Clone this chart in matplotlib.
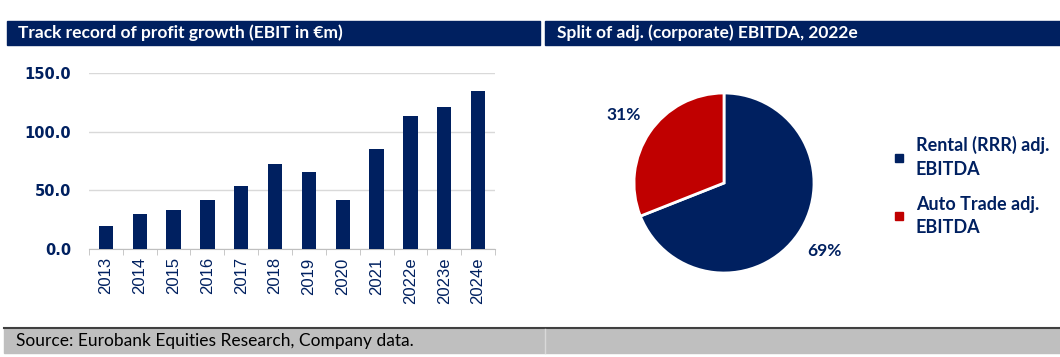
import matplotlib.pyplot as plt
from matplotlib.lines import Line2D
from matplotlib.patches import Rectangle
from matplotlib.ticker import FixedLocator

# Data
years = ['2013', '2014', '2015', '2016', '2017', '2018', '2019', '2020',
         '2021', '2022e', '2023e', '2024e']
ebit = [19.6, 29.8, 33.2, 41.8, 54.0, 72.2, 65.9, 41.8, 85.0, 113.4, 121.3, 134.7]

split_labels = ['Rental (RRR) adj.\nEBITDA', 'Auto Trade adj.\nEBITDA']
split_values = [69, 31]

NAVY = '#002060'
RED = '#C00000'
W, H = 1060, 357

fig = plt.figure(figsize=(W / 100, H / 100), dpi=100)


def fx(px):
    return px / W


def fy(py):
    return 1 - py / H


# Header bars
fig.patches.append(Rectangle((fx(7), fy(45)), fx(533), 24 / H, color=NAVY,
                             transform=fig.transFigure))
fig.patches.append(Rectangle((fx(545), fy(45)), fx(515), 24 / H, color=NAVY,
                             transform=fig.transFigure))
fig.text(fx(18), fy(33), 'Track record of profit growth (EBIT in €m)', color='white',
         fontsize=12.5, fontweight='bold', family='Lato', va='center')
fig.text(fx(557), fy(33), 'Split of adj. (corporate) EBITDA, 2022e', color='white',
         fontsize=12.5, fontweight='bold', family='Lato', va='center')

# Footer
fig.patches.append(Rectangle((fx(4), fy(353)), fx(1056), 25 / H, color='#BFBFBF',
                             transform=fig.transFigure))
fig.lines.append(Line2D([fx(4), 1], [fy(328), fy(328)], color='#404040', lw=1.5,
                        transform=fig.transFigure))
fig.lines.append(Line2D([fx(545), fx(545)], [fy(353), fy(329)], color='#D9D9D9', lw=1,
                        transform=fig.transFigure))
fig.text(fx(16), fy(341), 'Source: Eurobank Equities Research, Company data.',
         fontsize=12.5, family='Lato', va='center', color='black')

# Bar chart
ax = fig.add_axes([fx(89), fy(249), fx(495 - 89), (249 - 73) / H])
x = range(len(years))
ax.bar(x, ebit, width=0.42, color=NAVY, zorder=3)
ax.set_ylim(0, 150)
ax.set_xlim(-0.5, len(years) - 0.5)
ax.set_yticks([0, 50, 100, 150])
ax.set_yticklabels(['%.1f' % v for v in [0, 50, 100, 150]], fontsize=10.5,
                   fontweight='bold', color=NAVY)
ax.set_xticks(list(x))
ax.set_xticklabels(years, rotation=90, fontsize=12, color=NAVY,
                   family='Liberation Sans')
ax.xaxis.set_minor_locator(FixedLocator([i - 0.5 for i in range(len(years) + 1)]))
ax.tick_params(axis='x', which='major', length=0, pad=6)
ax.tick_params(axis='x', which='minor', length=4, color='#BFBFBF', direction='out')
ax.tick_params(axis='y', length=0, pad=13)
ax.grid(axis='y', color='#D9D9D9', lw=1, zorder=0)
for s in ['top', 'right', 'left']:
    ax.spines[s].set_visible(False)
ax.spines['bottom'].set_color('#BFBFBF')

# Pie chart
pax = fig.add_axes([fx(724 - 90), fy(183 + 90), fx(180), 180 / H])
wedges, texts, autotexts = pax.pie(
    split_values, colors=[NAVY, RED], startangle=90, counterclock=False,
    autopct='%d%%', pctdistance=1.35,
    wedgeprops=dict(edgecolor='white', linewidth=2),
    textprops=dict(fontsize=12.5, fontweight='bold', color=NAVY, family='Lato'))
pax.set_xlim(-1, 1)
pax.set_ylim(-1, 1)

handles = [Line2D([0], [0], marker='s', color='none', markerfacecolor=c,
                  markeredgecolor=c, markersize=6) for c in [NAVY, RED]]
leg = fig.legend(handles, split_labels, loc='center left',
                 bbox_to_anchor=(fx(876), fy(186)), frameon=False,
                 prop=dict(family='Lato', weight='bold', size=13),
                 handlelength=0.8, handletextpad=0.5, labelspacing=1.0)
for t in leg.get_texts():
    t.set_color(NAVY)
    t.set_linespacing(1.45)

fig.savefig('out.png', dpi=100)
